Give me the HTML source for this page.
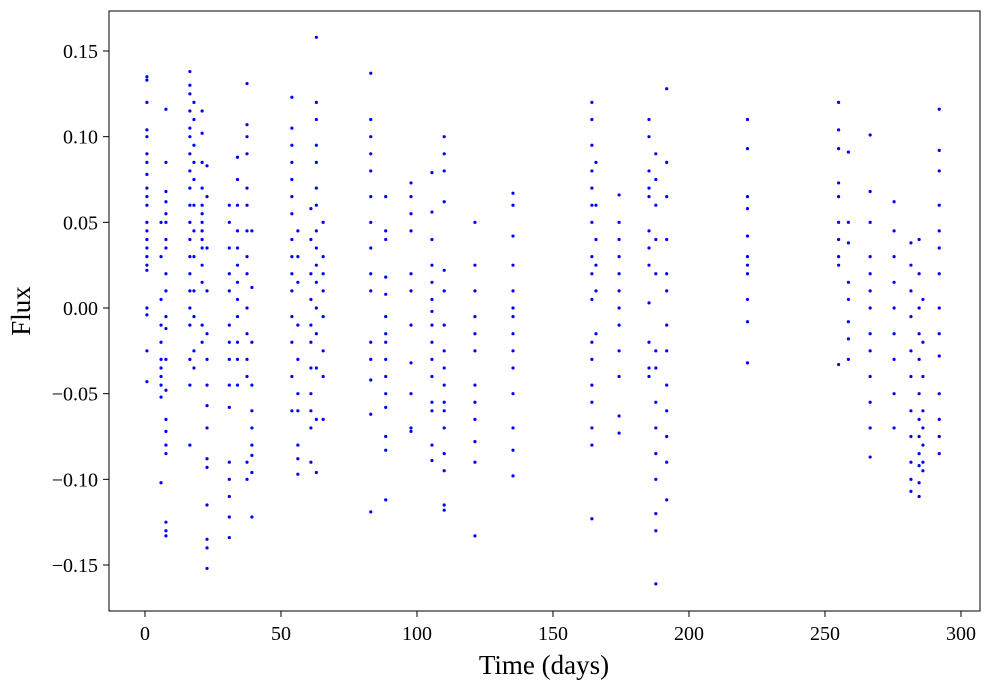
<!DOCTYPE html>
<html><head><meta charset="utf-8"><style>
body{margin:0;background:#fff}
text{font-family:"Liberation Serif",serif;fill:#000}
</style></head><body>
<svg id="chart" width="989" height="690" xmlns="http://www.w3.org/2000/svg">
<rect x="109" y="11" width="871" height="600" fill="#fff" stroke="#000" stroke-width="1"/>
<g id="xt"></g><g id="yt"></g><g id="pts"></g>
<text x="544" y="674" font-size="27" text-anchor="middle">Time (days)</text>
<text x="30" y="311" font-size="27" text-anchor="middle" transform="rotate(-90 30 311)">Flux</text>
</svg>
<script>
const times=[0.7,5.9,7.7,16.5,18,21,22.8,31,34,37.5,39.3,54,56.2,61,63,65.5,83,88.5,97.8,105.5,110,121.3,135.3,164.3,165.8,174.3,185.3,187.8,191.8,221.5,255,258.6,266.6,275.4,281.6,284.6,286,292];
const fluxes=[
[0.135,0.133,0.12,0.104,0.1,0.09,0.085,0.078,0.07,0.065,0.06,0.05,0.045,0.04,0.035,0.03,0.025,0.022,0.0,-0.004,-0.025,-0.043],
[0.05,0.03,0.005,-0.01,-0.02,-0.03,-0.035,-0.04,-0.045,-0.052,-0.102],
[0.116,0.085,0.068,0.062,0.055,0.05,0.04,0.035,0.02,0.01,-0.005,-0.012,-0.03,-0.048,-0.065,-0.072,-0.08,-0.085,-0.125,-0.13,-0.133],
[0.138,0.13,0.125,0.115,0.105,0.1,0.09,0.08,0.07,0.06,0.05,0.04,0.03,0.02,0.01,0,-0.01,-0.03,-0.045,-0.08],
[0.12,0.11,0.095,0.085,0.075,0.06,0.045,0.03,0.01,-0.005,-0.025,-0.035],
[0.115,0.102,0.085,0.07,0.06,0.055,0.05,0.045,0.04,0.035,0.025,0.015,-0.01,-0.02],
[0.083,0.065,0.035,0.01,-0.015,-0.03,-0.045,-0.057,-0.07,-0.088,-0.093,-0.115,-0.135,-0.14,-0.152],
[0.06,0.05,0.035,0.02,0.01,-0.01,-0.02,-0.03,-0.045,-0.058,-0.09,-0.1,-0.11,-0.122,-0.134],
[0.088,0.075,0.06,0.045,0.035,0.025,0.015,0.005,-0.005,-0.02,-0.03,-0.045],
[0.131,0.107,0.1,0.09,0.07,0.06,0.045,0.03,0.02,0.0,-0.015,-0.03,-0.04,-0.09,-0.1],
[0.045,0.012,-0.02,-0.045,-0.06,-0.07,-0.08,-0.086,-0.096,-0.122],
[0.123,0.105,0.095,0.085,0.075,0.065,0.055,0.04,0.03,0.02,0.01,-0.005,-0.02,-0.04,-0.06],
[0.045,0.03,0.015,-0.01,-0.03,-0.05,-0.06,-0.08,-0.088,-0.097],
[0.058,0.04,0.02,0.005,-0.01,-0.02,-0.035,-0.05,-0.06,-0.07,-0.09],
[0.158,0.12,0.11,0.095,0.085,0.07,0.06,0.045,0.035,0.025,0.015,0.0,-0.015,-0.035,-0.065,-0.096],
[0.05,0.03,0.02,0.01,-0.005,-0.025,-0.04,-0.065],
[0.137,0.11,0.1,0.09,0.08,0.065,0.05,0.035,0.02,0.01,-0.02,-0.03,-0.042,-0.062,-0.119],
[0.065,0.045,0.04,0.018,0.008,-0.005,-0.015,-0.02,-0.03,-0.04,-0.05,-0.058,-0.075,-0.083,-0.112],
[0.073,0.065,0.055,0.045,0.02,0.01,-0.01,-0.032,-0.05,-0.07,-0.072],
[0.079,0.056,0.04,0.025,0.015,0.005,-0.002,-0.01,-0.02,-0.03,-0.04,-0.055,-0.06,-0.08,-0.089],
[0.1,0.09,0.08,0.062,0.022,0.01,-0.01,-0.025,-0.035,-0.045,-0.055,-0.06,-0.07,-0.085,-0.095,-0.115,-0.118],
[0.05,0.025,0.01,-0.005,-0.015,-0.025,-0.045,-0.055,-0.065,-0.078,-0.09,-0.133],
[0.067,0.06,0.042,0.025,0.01,0.0,-0.005,-0.015,-0.025,-0.035,-0.05,-0.07,-0.083,-0.098],
[0.12,0.11,0.095,0.08,0.07,0.06,0.05,0.03,0.02,0.005,-0.02,-0.03,-0.045,-0.055,-0.07,-0.08,-0.123],
[0.085,0.06,0.04,0.025,0.01,-0.015],
[0.066,0.05,0.04,0.03,0.02,0.01,0.0,-0.01,-0.025,-0.04,-0.063,-0.073],
[0.11,0.1,0.08,0.07,0.065,0.045,0.035,0.025,0.003,-0.02,-0.035,-0.04],
[0.09,0.075,0.06,0.04,0.02,-0.025,-0.035,-0.055,-0.07,-0.085,-0.1,-0.12,-0.13,-0.161],
[0.128,0.085,0.065,0.04,0.02,0.01,-0.01,-0.025,-0.045,-0.06,-0.075,-0.09,-0.112],
[0.11,0.093,0.065,0.058,0.042,0.03,0.025,0.02,0.005,-0.008,-0.032],
[0.12,0.104,0.093,0.073,0.065,0.05,0.04,0.03,0.025,-0.033],
[0.091,0.05,0.038,0.015,0.005,-0.008,-0.018,-0.03],
[0.101,0.068,0.05,0.03,0.02,0.01,0.0,-0.015,-0.025,-0.04,-0.055,-0.07,-0.087],
[0.062,0.045,0.03,0.015,0.0,-0.015,-0.03,-0.05,-0.07],
[0.038,0.025,0.01,-0.005,-0.025,-0.04,-0.06,-0.075,-0.09,-0.1,-0.107],
[0.04,0.02,0.0,-0.015,-0.03,-0.05,-0.065,-0.075,-0.085,-0.092,-0.102,-0.11],
[0.005,-0.02,-0.04,-0.06,-0.07,-0.08,-0.09,-0.095],
[0.116,0.092,0.08,0.06,0.045,0.035,0.02,0.0,-0.015,-0.028,-0.05,-0.065,-0.075,-0.085]
];
const xTicks=[0,50,100,150,200,250,300];
const yTicks=[0.15,0.10,0.05,0.00,-0.05,-0.10,-0.15];
const X=d=>145+d*816/300;
const Y=v=>308-v*514/0.3;
const NS='http://www.w3.org/2000/svg';
function mk(tag,attrs,parent){const e=document.createElementNS(NS,tag);for(const k in attrs)e.setAttribute(k,attrs[k]);parent.appendChild(e);return e;}
const xt=document.getElementById('xt'),yt=document.getElementById('yt'),pts=document.getElementById('pts');
xTicks.forEach(t=>{
 const l=mk('line',{x1:X(t),x2:X(t),y1:611,y2:617,stroke:'#000'},xt);
 
 
 const tx=mk('text',{x:X(t),y:640,'font-size':20,'text-anchor':'middle'},xt);
 tx.textContent=t;
 
 
});
yTicks.forEach(t=>{
 const l=mk('line',{x1:103,x2:109,y1:Y(t),y2:Y(t),stroke:'#000'},yt);
 
 
 const tx=mk('text',{x:98,y:Y(t)+7,'font-size':20,'text-anchor':'end'},yt);
 tx.textContent=(t<0?'\u2212':'')+Math.abs(t).toFixed(2);
 
 
});
times.forEach((t,i)=>{fluxes[i].forEach(v=>{
 const c=mk('circle',{cx:X(t),cy:Y(v),r:1.6,fill:'#0000ff'},pts);
 
 
});});
</script>
</body></html>
